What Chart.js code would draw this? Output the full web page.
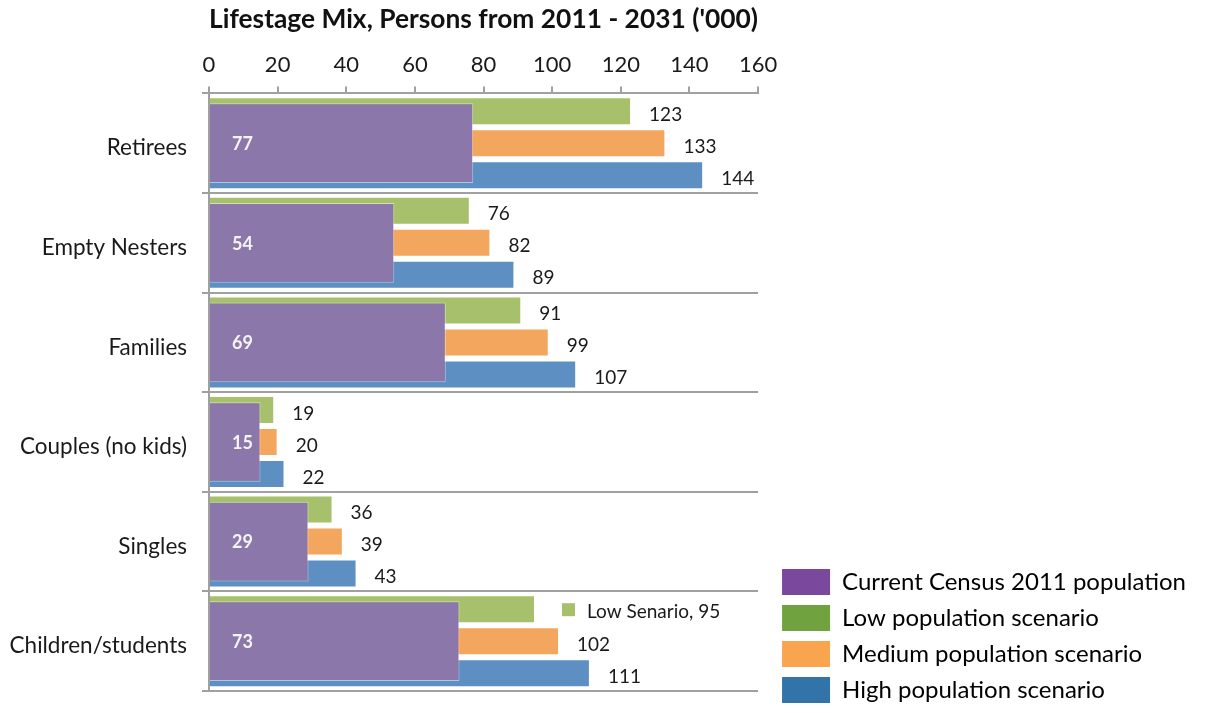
<!DOCTYPE html>
<html>
<head>
<meta charset="utf-8">
<title>Lifestage Mix</title>
<script src="https://cdn.jsdelivr.net/npm/chart.js@4.4.1/dist/chart.umd.min.js"></script>
<style>
  html, body { margin: 0; padding: 0; background: #fff; overflow: hidden; }
  #wrap { width: 1208px; height: 713px; }
</style>
</head>
<body>
<div id="wrap"><canvas id="mixChart"></canvas></div>
<script>
const categories = ["Retirees", "Empty Nesters", "Families", "Couples (no kids)", "Singles", "Children/students"];
const census2011 = [77, 54, 69, 15, 29, 73];
const lowScenario = [123, 76, 91, 19, 36, 95];
const mediumScenario = [133, 82, 99, 20, 39, 102];
const highScenario = [144, 89, 107, 22, 43, 111];
const xTicks = [0, 20, 40, 60, 80, 100, 120, 140, 160];
// text shown in front of a value label (with a colour key), null = value only
const lowLabelPrefix = [null, null, null, null, null, "Low Senario"];

const barColors = ["#8c77aa", "#a7c06b", "#f3a65d", "#5e8fc2"];
const legendColors = ["#7a489c", "#70a33f", "#f9a54f", "#3374a8"];
const gridGrey = "#a0a0a0";
const textColor = "#1a1a1a";

Chart.defaults.font.family = "Lato, 'Open Sans', sans-serif";

// value labels: white inside the census bar, dark after the scenario bars
const barLabels = {
  id: "barLabels",
  afterDatasetsDraw(chart) {
    const ctx = chart.ctx;
    const left = chart.chartArea.left;
    ctx.save();
    ctx.textAlign = "left";
    ctx.textBaseline = "middle";
    chart.data.datasets.forEach((ds, di) => {
      const meta = chart.getDatasetMeta(di);
      meta.data.forEach((bar, i) => {
        const value = ds.data[i];
        if (di === 0) {
          ctx.font = "bold 18px Lato";
          ctx.fillStyle = "#f4f4f4";
          ctx.fillText(String(value), left + 23, bar.y + 1);
          return;
        }
        ctx.font = "19px Lato";
        const prefix = ds.labelPrefix ? ds.labelPrefix[i] : null;
        if (prefix) {
          ctx.fillStyle = ds.backgroundColor;
          ctx.fillRect(bar.x + 27, bar.y - 6, 13, 13);
          ctx.fillStyle = textColor;
          ctx.fillText(prefix + ", " + value, bar.x + 52, bar.y + 3);
        } else {
          ctx.fillStyle = textColor;
          ctx.fillText(String(value), bar.x + 18, bar.y + 3.5);
        }
      });
    });
    ctx.restore();
  }
};

const scenarioBar = {
  categoryPercentage: 0.964,
  barPercentage: 0.875,
  borderWidth: 1,
  borderColor: "rgba(255,255,255,0.6)",
  borderSkipped: "start"
};

new Chart(document.getElementById("mixChart"), {
  type: "bar",
  data: {
    labels: categories,
    datasets: [
      {
        // census bar is laid over the three scenario bars, not beside them
        label: "Current Census 2011 population",
        data: census2011,
        grouped: false,
        backgroundColor: barColors[0],
        borderWidth: 1,
        borderColor: "rgba(255,255,255,0.5)",
        borderSkipped: "start",
        categoryPercentage: 0.8,
        barPercentage: 1
      },
      Object.assign({ label: "Low population scenario", data: lowScenario, backgroundColor: barColors[1], labelPrefix: lowLabelPrefix }, scenarioBar),
      Object.assign({ label: "Medium population scenario", data: mediumScenario, backgroundColor: barColors[2] }, scenarioBar),
      Object.assign({ label: "High population scenario", data: highScenario, backgroundColor: barColors[3] }, scenarioBar)
    ]
  },
  options: {
    indexAxis: "y",
    responsive: true,
    maintainAspectRatio: false,
    animation: false,
    layout: { padding: { left: 0, right: 12, top: 0, bottom: 0 } },
    plugins: {
      title: {
        display: true,
        text: "Lifestage Mix, Persons from 2011 - 2031 ('000)",
        fullSize: false,
        color: "#111",
        font: { size: 27.5, weight: "bold" },
        padding: { top: 3, bottom: 8 }
      },
      // empty line under the plot keeps the bottom margin free of the legend
      subtitle: {
        display: true,
        text: "",
        position: "bottom",
        padding: 0,
        font: { size: 10, lineHeight: 2.2 }
      },
      legend: {
        position: "right",
        align: "end",
        maxWidth: 600,
        labels: {
          boxWidth: 48,
          boxHeight: 26,
          padding: 10,
          color: textColor,
          font: { size: 24 },
          generateLabels: (chart) => chart.data.datasets.map((ds, i) => ({
            text: ds.label,
            fillStyle: legendColors[i],
            strokeStyle: legendColors[i],
            lineWidth: 0,
            hidden: false,
            datasetIndex: i
          }))
        }
      },
      tooltip: { enabled: false }
    },
    scales: {
      x: {
        position: "top",
        min: xTicks[0],
        max: xTicks[xTicks.length - 1],
        afterBuildTicks: (axis) => { axis.ticks = xTicks.map((v) => ({ value: v })); },
        grid: { drawOnChartArea: false, tickLength: 7, color: gridGrey, lineWidth: 2 },
        border: { color: gridGrey, width: 2 },
        ticks: { color: textColor, font: { size: 22 }, padding: 8 }
      },
      y: {
        grid: { offset: true, color: gridGrey, lineWidth: 2, tickLength: 7 },
        border: { color: gridGrey, width: 2 },
        ticks: { color: textColor, font: { size: 22.5 }, padding: 15, labelOffset: 5 },
        afterFit: (scale) => {
          scale.width = 209;
          scale.paddingTop = 0;
          scale.paddingBottom = 0;
        }
      },
      // blank strip between the plot and the legend
      gap: {
        type: "category",
        axis: "y",
        position: "right",
        grid: { display: false },
        border: { display: false },
        ticks: { display: false },
        afterFit: (scale) => {
          scale.width = 14;
          scale.paddingTop = 0;
          scale.paddingBottom = 0;
        }
      }
    }
  },
  plugins: [barLabels]
});
</script>
</body>
</html>
